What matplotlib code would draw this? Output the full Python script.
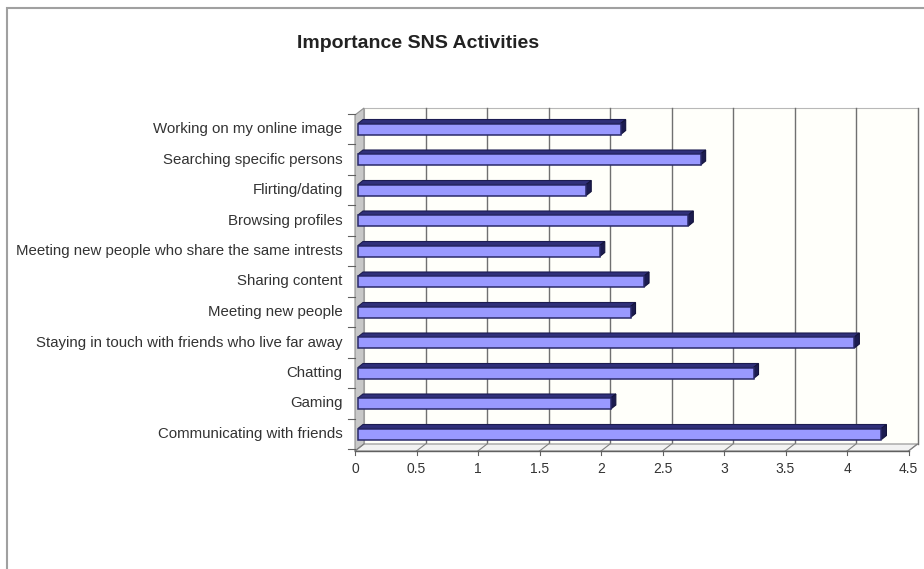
import matplotlib
matplotlib.use("Agg")
import matplotlib.pyplot as plt
from matplotlib.patches import Polygon, Rectangle

# data, bottom to top as drawn
activities = [
    "Communicating with friends",
    "Gaming",
    "Chatting",
    "Staying in touch with friends who live far away",
    "Meeting new people",
    "Sharing content",
    "Meeting new people who share the same intrests",
    "Browsing profiles",
    "Flirting/dating",
    "Searching specific persons",
    "Working on my online image",
]
importance = [4.28, 2.08, 3.24, 4.06, 2.24, 2.35, 1.99, 2.71, 1.88, 2.81, 2.16]
xticks = [0, 0.5, 1, 1.5, 2, 2.5, 3, 3.5, 4, 4.5]
xlabels = ["0", "0.5", "1", "1.5", "2", "2.5", "3", "3.5", "4", "4.5"]

plt.rcParams['font.family'] = ['Liberation Sans', 'DejaVu Sans']

W, H = 924, 569
fig = plt.figure(figsize=(W / 100, H / 100), dpi=100)
fig.patch.set_facecolor("white")

# outer chart border (only left and top are visible in the picture)
fig.add_artist(Rectangle((7 / W, -0.1), 1.2, (H - 8) / H + 0.1, transform=fig.transFigure,
                         fill=False, edgecolor="#a0a0a0", linewidth=1.5))

# axes placed so that 1 unit = 123 px and one category = 30.5 px
px_x, px_y = 123.0, 30.5
x0_px, y0_px = 355, 434
left_px, right_px, top_px, bot_px = 340, 924, 100, 462
ax = fig.add_axes([left_px / W, (H - bot_px) / H, (right_px - left_px) / W, (bot_px - top_px) / H])
ax.set_xlim((left_px - x0_px) / px_x, (right_px - x0_px) / px_x)
ax.set_ylim(-(bot_px - y0_px) / px_y, (y0_px - top_px) / px_y)
ax.axis("off")

dx, dy = 9 / px_x, 7 / px_y          # depth of the box
y_front = -(451 - y0_px) / px_y       # floor front edge
y_top = (y0_px - 115) / px_y          # wall top (front)
xmax = 4.5

# back wall
ax.add_patch(Polygon([(dx, y_front + dy), (xmax + dx, y_front + dy), (xmax + dx, y_top + dy), (dx, y_top + dy)],
                     closed=True, facecolor="#fffffa", edgecolor="#b8b8b8", linewidth=0.8, zorder=1))
# left wall
ax.add_patch(Polygon([(0, y_front), (dx, y_front + dy), (dx, y_top + dy), (0, y_top)],
                     closed=True, facecolor="#c8c8c8", edgecolor="#909090", linewidth=0.8, zorder=2))
# floor
ax.add_patch(Polygon([(0, y_front), (xmax, y_front), (xmax + dx, y_front + dy), (dx, y_front + dy)],
                     closed=True, facecolor="#f2f2f2", edgecolor="#909090", linewidth=0.8, zorder=2))

# gridlines on back wall + slanted ticks on the floor
for t in xticks[1:]:
    ax.plot([t + dx, t + dx], [y_front + dy, y_top + dy], color="#707070", linewidth=1.0, zorder=1.5)
for t, lab in zip(xticks, xlabels):
    ax.plot([t, t + dx], [y_front, y_front + dy], color="#808080", linewidth=0.8, zorder=3)
    ax.plot([t, t], [y_front, y_front - 0.12], color="#606060", linewidth=0.8, zorder=3)
    ax.text(t, y_front - 0.35, lab, ha="center", va="top", fontsize=10, color="#333333")
ax.plot([0, xmax], [y_front, y_front], color="#606060", linewidth=1.0, zorder=3)

# category ticks on left wall + labels
for i, name in enumerate(activities):
    yt = i - 0.5
    ax.plot([-0.06, 0], [yt, yt], color="#606060", linewidth=0.8, zorder=3)
    ax.text(-0.1, i, name, ha="right", va="center", fontsize=10.8, color="#333333")
ax.plot([-0.06, 0], [len(activities) - 0.5, len(activities) - 0.5], color="#606060", linewidth=0.8)

# 3D-looking bars
hh = 5.5 / px_y
bdx, bdy = 5 / px_x, 4 / px_y
x_start = 3 / px_x
for i, v in enumerate(importance):
    yb, yt = i - hh, i + hh
    ax.add_patch(Polygon([(x_start, yt), (v, yt), (v + bdx, yt + bdy), (x_start + bdx, yt + bdy)],
                         closed=True, facecolor="#30307a", edgecolor="#1c1c50", linewidth=0.8, zorder=4))
    ax.add_patch(Polygon([(v, yb), (v + bdx, yb + bdy), (v + bdx, yt + bdy), (v, yt)],
                         closed=True, facecolor="#1c1c50", edgecolor="#14143c", linewidth=0.8, zorder=4))
    ax.add_patch(Polygon([(x_start, yb), (v, yb), (v, yt), (x_start, yt)],
                         closed=True, facecolor="#9999ff", edgecolor="#2a2a6a", linewidth=1.1, zorder=5))

fig.text(418 / W, 1 - 44 / H, "Importance SNS Activities", ha="center", va="center",
         fontsize=14, fontweight="bold", color="#222222")

fig.savefig("out.png", dpi=100)
